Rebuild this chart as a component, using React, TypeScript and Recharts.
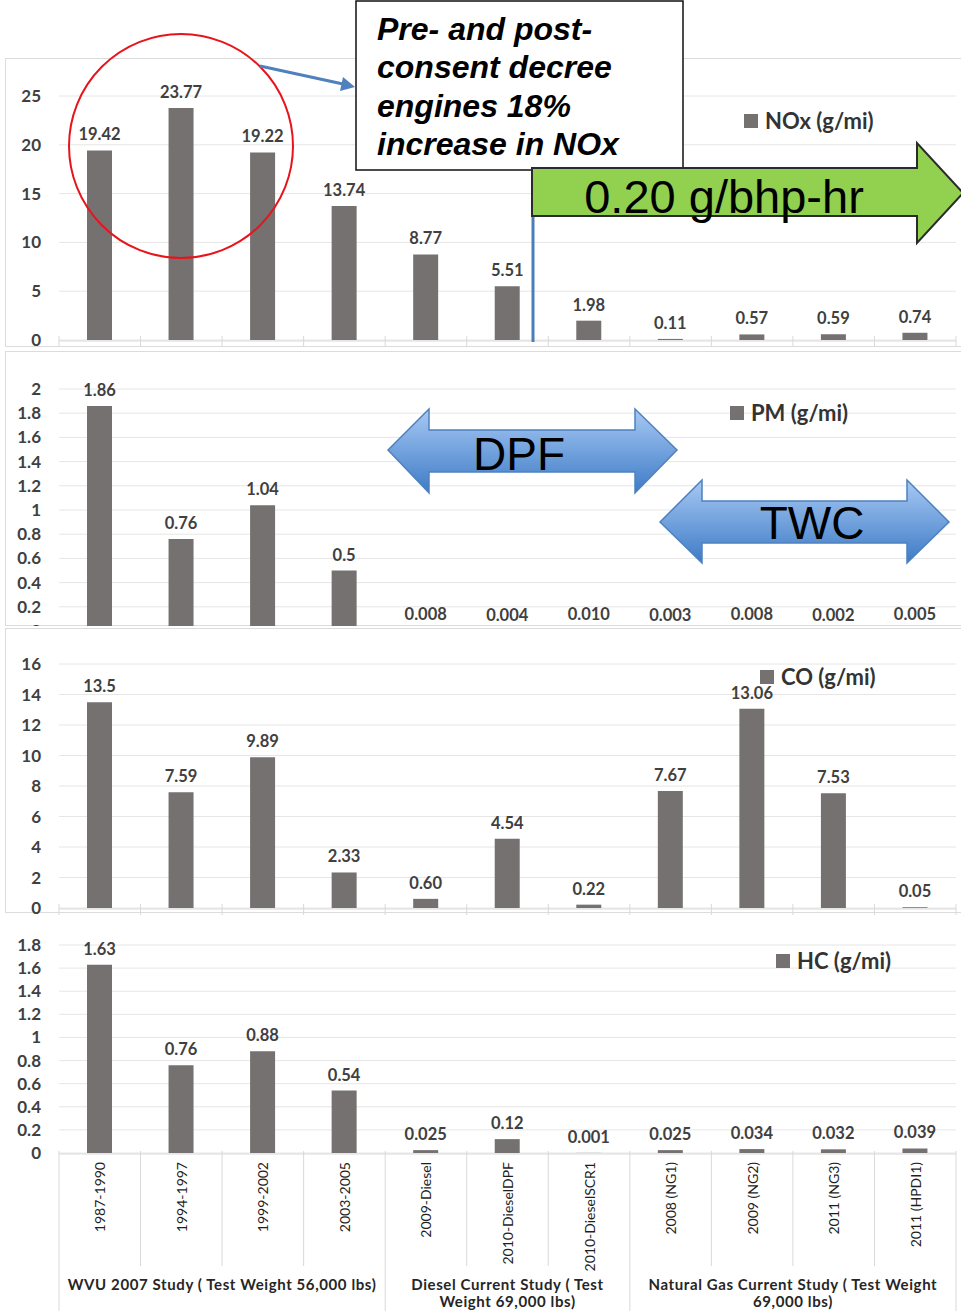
import { BarChart, Bar, XAxis, YAxis, CartesianGrid, LabelList, Legend } from "recharts";
import type { CSSProperties } from "react";

const categories = [
  "1987-1990",
  "1994-1997",
  "1999-2002",
  "2003-2005",
  "2009-Diesel",
  "2010-DieselDPF",
  "2010-DieselSCR1",
  "2008 (NG1)",
  "2009 (NG2)",
  "2011 (NG3)",
  "2011 (HPDI1)",
];

const noxValues = [19.42, 23.77, 19.22, 13.74, 8.77, 5.51, 1.98, 0.11, 0.57, 0.59, 0.74];
const pmValues = [1.86, 0.76, 1.04, 0.5, 0.008, 0.004, 0.01, 0.003, 0.008, 0.002, 0.005];
const coValues = [13.5, 7.59, 9.89, 2.33, 0.6, 4.54, 0.22, 7.67, 13.06, 7.53, 0.05];
const hcValues = [1.63, 0.76, 0.88, 0.54, 0.025, 0.12, 0.001, 0.025, 0.034, 0.032, 0.039];

const noxTicks = [0, 5, 10, 15, 20, 25];
const pmTicks = [0, 0.2, 0.4, 0.6, 0.8, 1, 1.2, 1.4, 1.6, 1.8, 2];
const coTicks = [0, 2, 4, 6, 8, 10, 12, 14, 16];
const hcTicks = [0, 0.2, 0.4, 0.6, 0.8, 1, 1.2, 1.4, 1.6, 1.8];

// category boundaries (in category units) and study groups
const boundaryTicks = [0, 1, 2, 3, 4, 5, 6, 7, 8, 9, 10, 11];
const groupBounds = [0, 4, 7, 11];
const groupLabels = [
  ["WVU 2007 Study ( Test Weight 56,000 lbs)"],
  ["Diesel Current Study ( Test", "Weight 69,000 lbs)"],
  ["Natural Gas Current Study ( Test Weight", "69,000 lbs)"],
];
const groupCenters = groupLabels.map((_, i) => (groupBounds[i] + groupBounds[i + 1]) / 2);

const BAR = "#767171";
const INK = "#404040";
const FONT = "Lato, 'Open Sans', sans-serif";
const ARIAL = "'Liberation Sans', Arial, sans-serif";

const fmtNox = (v: number) => v.toFixed(2);
const fmtPm = (v: number) => (v < 0.1 ? v.toFixed(3) : String(v));
const fmtCo = (v: number) => (v < 1 ? v.toFixed(2) : String(v));
const fmtHc = (v: number) => String(v);

function BoundaryTick(props: any) {
  const { x, y, payload, bottom } = props;
  if (bottom) {
    const len = groupBounds.includes(payload.value) ? 160 : 112;
    return <line x1={x} y1={y - 3} x2={x} y2={y + len} stroke="#d9d9d9" strokeWidth={1} />;
  }
  return <line x1={x} y1={y - 5} x2={x} y2={y + 6} stroke="#d9d9d9" strokeWidth={1} />;
}

function CategoryTick(props: any) {
  const { x, y, payload } = props;
  return (
    <text
      transform={`translate(${x},${y}) rotate(-90)`}
      textAnchor="end"
      dominantBaseline="central"
      fontFamily={FONT}
      fontSize={14}
      fill="#1e1e1e"
    >
      {payload.value}
    </text>
  );
}

function GroupTick(props: any) {
  const { x, y, index } = props;
  const lines = groupLabels[index] || [];
  return (
    <g>
      {lines.map((line, i) => (
        <text
          key={i}
          x={x}
          y={y + 135 + i * 17}
          textAnchor="middle"
          fontFamily={FONT}
          fontWeight={700}
          fontSize={15}
          letterSpacing={0.6}
          fill="#262626"
        >
          {line}
        </text>
      ))}
    </g>
  );
}

function LegendBox(props: any) {
  const item = (props.payload || [])[0];
  if (!item) return null;
  return (
    <div style={legendRow}>
      <span style={{ width: 14, height: 14, background: item.color, marginRight: 7, display: "inline-block" }} />
      <span>{item.value}</span>
    </div>
  );
}

interface PanelProps {
  values: number[];
  name: string;
  yTicks: number[];
  fmt: (v: number) => string;
  top: number;
  height: number;
  marginTop: number;
  marginBottom: number;
  clip?: number;
  legendTop: number;
  legendLeft: number;
  bottom?: boolean;
}

function Panel(p: PanelProps) {
  const data = categories.map((c, i) => ({ cat: c, slot: i + 0.5, v: p.values[i] }));
  return (
    <div style={{ ...panelBox, top: p.top, height: p.clip ?? p.height }}>
      <BarChart
        width={961}
        height={p.height}
        data={data}
        margin={{ top: p.marginTop, right: 5, bottom: p.marginBottom, left: 0 }}
      >
        <CartesianGrid vertical={false} stroke="#e6e6e6" xAxisId="cat" />
        <XAxis
          xAxisId="cat"
          dataKey="cat"
          hide={!p.bottom}
          height={1}
          axisLine={false}
          tickLine={false}
          tickSize={6}
          tickMargin={3}
          interval={0}
          tick={<CategoryTick />}
        />
        <XAxis
          xAxisId="grid"
          dataKey="slot"
          type="number"
          domain={[0, 11]}
          allowDataOverflow
          ticks={boundaryTicks}
          height={1}
          axisLine={{ stroke: "#d9d9d9" }}
          tickLine={false}
          tickSize={0}
          tickMargin={0}
          interval={0}
          tick={<BoundaryTick bottom={p.bottom} />}
        />
        {p.bottom && (
          <XAxis
            xAxisId="groups"
            dataKey="slot"
            type="number"
            domain={[0, 11]}
            allowDataOverflow
            ticks={groupCenters}
            height={1}
            axisLine={false}
            tickLine={false}
            tickSize={0}
            tickMargin={0}
            interval={0}
            tick={<GroupTick />}
          />
        )}
        <YAxis
          domain={[0, p.yTicks[p.yTicks.length - 1]]}
          ticks={p.yTicks}
          interval={0}
          width={59}
          axisLine={false}
          tickLine={false}
          tickMargin={12}
          tickFormatter={(v: number) => String(Math.round(v * 10) / 10)}
          tick={{ fontFamily: FONT, fontWeight: 700, fontSize: 17, fill: INK }}
        />
        <Legend
          layout="horizontal"
          verticalAlign="middle"
          align="center"
          wrapperStyle={{ top: p.legendTop, left: p.legendLeft, width: "auto" }}
          content={<LegendBox />}
        />
        <Bar xAxisId="cat" dataKey="v" name={p.name} fill={BAR} barSize={25} isAnimationActive={false}>
          <LabelList
            dataKey="v"
            position="top"
            offset={10}
            formatter={(v: number) => p.fmt(v)}
            fill={INK}
            fontFamily={FONT}
            fontWeight={700}
            fontSize={16.5}
          />
        </Bar>
      </BarChart>
    </div>
  );
}

export default function App() {
  return (
    <div style={page}>
      <div style={{ ...frame, top: 58, height: 289 }} />
      <div style={{ ...frame, top: 351, height: 275 }} />
      <div style={{ ...frame, top: 628, height: 285 }} />

      <Panel values={noxValues} name="NOx (g/mi)" yTicks={noxTicks} fmt={fmtNox}
        top={58} height={296} marginTop={38} marginBottom={13} legendTop={51} legendLeft={744} />
      <Panel values={pmValues} name="PM (g/mi)" yTicks={pmTicks} fmt={fmtPm}
        top={351} height={296} marginTop={38} marginBottom={15} clip={275} legendTop={50} legendLeft={730} />
      <Panel values={coValues} name="CO (g/mi)" yTicks={coTicks} fmt={fmtCo}
        top={628} height={294} marginTop={36} marginBottom={13} legendTop={37} legendLeft={760} />
      <Panel values={hcValues} name="HC (g/mi)" yTicks={hcTicks} fmt={fmtHc}
        top={917} height={394} marginTop={28} marginBottom={155} legendTop={32} legendLeft={776} bottom />

      <svg width={961} height={1311} style={overlay}>
        <defs>
          <linearGradient id="blueFill" x1="0" y1="0" x2="0" y2="1">
            <stop offset="0" stopColor="#a8c9f4" />
            <stop offset="1" stopColor="#3d7bc6" />
          </linearGradient>
        </defs>

        <circle cx={181} cy={146} r={112} fill="none" stroke="#e8141c" strokeWidth={2} />
        <line x1={260} y1={66} x2={343} y2={84} stroke="#4f81bd" strokeWidth={3} />
        <polygon points="355,87 340,91 343,77" fill="#4f81bd" />

        <rect x={356} y={1} width={327} height={169} fill="#fff" stroke="#111" strokeWidth={1.5} />
        {["Pre- and post-", "consent decree", "engines 18%", "increase in NOx"].map((t, i) => (
          <text key={i} x={377} y={40 + i * 38.3} fontFamily={ARIAL}
            fontWeight={700} fontStyle="italic" fontSize={32} fill="#000">
            {t}
          </text>
        ))}

        <line x1={533} y1={170} x2={533} y2={342} stroke="#4a7ebb" strokeWidth={3} />

        <polygon points="532,168 917,168 917,143 963,193 917,243 917,216 532,216"
          fill="#92d050" stroke="#2b2b2b" strokeWidth={2} />
        <text x={724} y={213} textAnchor="middle" fontFamily={ARIAL} fontSize={47} fill="#000">
          0.20 g/bhp-hr
        </text>

        <polygon points="388,450 429,409 429,430 635,430 635,409 677,450 635,493 635,472 429,472 429,493"
          fill="url(#blueFill)" stroke="#4f81bd" strokeWidth={1.5} />
        <text x={519} y={470} textAnchor="middle" fontFamily={ARIAL} fontSize={46} fill="#000">DPF</text>

        <polygon points="660,522 702,480 702,501 907,501 907,480 949,522 907,563 907,543 702,543 702,563"
          fill="url(#blueFill)" stroke="#4f81bd" strokeWidth={1.5} />
        <text x={812} y={539} textAnchor="middle" fontFamily={ARIAL} fontSize={46} fill="#000">TWC</text>
      </svg>
    </div>
  );
}

const page: CSSProperties = {
  position: "absolute",
  left: 0,
  top: 0,
  width: 961,
  height: 1311,
  background: "#fff",
  overflow: "hidden",
};

const panelBox: CSSProperties = {
  position: "absolute",
  left: 0,
  width: 961,
  overflow: "hidden",
};

const frame: CSSProperties = {
  position: "absolute",
  left: 5,
  width: 960,
  boxSizing: "border-box",
  border: "1px solid #dcdcdc",
};

const legendRow: CSSProperties = {
  display: "flex",
  alignItems: "center",
  whiteSpace: "nowrap",
  fontFamily: FONT,
  fontWeight: 700,
  fontSize: 22,
  lineHeight: "24px",
  color: "#333",
};

const overlay: CSSProperties = {
  position: "absolute",
  left: 0,
  top: 0,
  pointerEvents: "none",
};
